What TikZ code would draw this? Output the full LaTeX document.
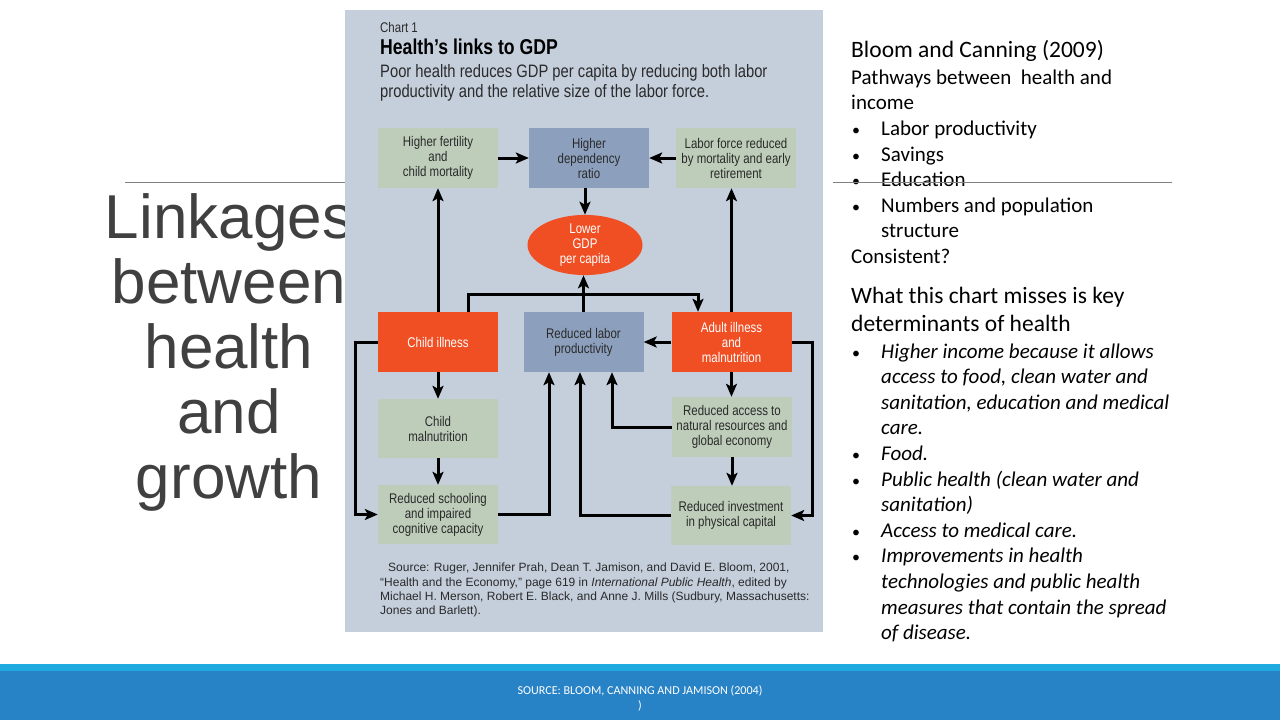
\documentclass[tikz,border=0pt]{standalone}
\usepackage{fontspec}
\setmainfont{Carlito}
\newfontfamily\titlefont{Liberation Sans}
\newfontfamily\chartfont[FakeStretch=0.82]{Liberation Sans}
\newfontfamily\chartplain{Liberation Sans}
\usetikzlibrary{shapes.geometric,arrows.meta}
\definecolor{chartbg}{HTML}{C5CFDC}
\definecolor{boxgreen}{HTML}{BECDBA}
\definecolor{boxblue}{HTML}{8CA0BE}
\definecolor{boxred}{HTML}{F04E23}
\definecolor{charttext}{HTML}{2A2A2A}
\definecolor{titlegray}{HTML}{404040}
\definecolor{rulegray}{HTML}{808080}
\definecolor{footlight}{HTML}{1FAAE0}
\definecolor{footdark}{HTML}{2782C6}
\tikzset{
  basebox/.style={rectangle, minimum width=120pt, minimum height=60pt, inner sep=0pt, align=center,
    font=\chartfont\fontsize{14}{15}\selectfont},
  greenbox/.style={basebox, fill=boxgreen, text=charttext},
  bluebox/.style={basebox, fill=boxblue, text=charttext},
  redbox/.style={basebox, fill=boxred, text=white},
  arr/.style={line width=3pt, -{Stealth[length=13pt,width=11pt,inset=3pt]}},
  rtext/.style={anchor=base west, inner sep=0pt, font=\fontsize{21}{25}\selectfont, text=black},
  rbull/.style={anchor=base west, inner sep=0pt, font=\fontsize{16}{20}\selectfont, text=black},
  rbig/.style={anchor=base west, inner sep=0pt, font=\fontsize{23.5}{28}\selectfont, text=black},
  itext/.style={anchor=base west, inner sep=0pt, font=\itshape\fontsize{21}{25}\selectfont, text=black},
  srctext/.style={anchor=base west, inner sep=0pt, font=\chartplain\fontsize{12}{14}\selectfont, text=charttext},
  titleline/.style={anchor=base, inner sep=0pt, font=\titlefont\fontsize{62}{65}\selectfont, text=titlegray}
}
\begin{document}
\begin{tikzpicture}[x=1pt,y=-1pt]
\useasboundingbox (0,0) rectangle (1280,720);
\fill[white] (0,0) rectangle (1280,720);
% footer
\fill[footlight] (0,664) rectangle (1280,671);
\fill[footdark] (0,671) rectangle (1280,720);
\node[anchor=base, inner sep=0pt, text=white, font=\fontsize{12.1}{14}\selectfont] (src1) at (640,694) {SOURCE: BLOOM, CANNING AND JAMISON (2004)};
\node[anchor=base, inner sep=0pt, text=white, font=\fontsize{12.1}{14}\selectfont] (src2) at (640,709) {)};
% left title
\draw[rulegray, line width=0.8pt] (125,182) -- (345,182);
\node[titleline] (t1) at (229,238) {Linkages};
\node[titleline] (t2) at (229,303) {between};
\node[titleline] (t3) at (229,368) {health};
\node[titleline] (t4) at (229,433) {and};
\node[titleline] (t5) at (229,498) {growth};
% chart panel
\fill[chartbg] (345,10) rectangle (823,632);
\node[anchor=base west, inner sep=0pt, text=charttext, font=\chartfont\fontsize{14}{16}\selectfont] (c1) at (380,32) {Chart 1};
\node[anchor=base west, inner sep=0pt, text=black, font=\chartfont\bfseries\fontsize{21.5}{24}\selectfont] (c2) at (380,54) {Health’s links to GDP};
\node[anchor=base west, inner sep=0pt, text=charttext, font=\chartfont\fontsize{18}{20}\selectfont] (c3) at (380,77) {Poor health reduces GDP per capita by reducing both labor};
\node[anchor=base west, inner sep=0pt, text=charttext, font=\chartfont\fontsize{18}{20}\selectfont] (c4) at (380,97) {productivity and the relative size of the labor force.};
% boxes
\node[greenbox] (hf) at (438,158) {Higher fertility\\and\\child mortality};
\node[bluebox] (hd) at (589,158) {Higher\\dependency\\ratio};
\node[greenbox] (lf) at (736,158) {Labor force reduced\\by mortality and early\\retirement};
\node[ellipse, fill=boxred, text=white, minimum width=115pt, minimum height=57pt, inner sep=0pt, align=center, font=\chartfont\fontsize{14}{15}\selectfont] (gdp) at (585,245) {Lower\\GDP\\per capita};
\node[redbox] (ci) at (438,342) {Child illness};
\node[bluebox] (rlp) at (583.5,342) {Reduced labor\\productivity};
\node[redbox] (ai) at (731.5,342) {Adult illness\\and\\malnutrition};
\node[greenbox, minimum height=59pt] (cm) at (438,428.5) {Child\\malnutrition};
\node[greenbox] (ra) at (732,427) {Reduced access to\\natural resources and\\global economy};
\node[greenbox, minimum height=59pt] (rs) at (438,514.5) {Reduced schooling\\and impaired\\cognitive capacity};
\node[greenbox, minimum height=59pt] (ri) at (731,515.5) {Reduced investment\\in physical capital};
% bend coordinates
\coordinate (b1) at (468,294);
\coordinate (b2) at (698,294);
\coordinate (b3) at (355,0);
\coordinate (b4) at (549,0);
\coordinate (b5) at (580,0);
\coordinate (b6) at (612,0);
\coordinate (b7) at (812,0);
% connectors
\draw[arr] (hf.east) -- (hd.west);
\draw[arr] (lf.west) -- (hd.east);
\draw[arr] (gdp.north |- hd.south) -- (gdp.north);
\draw[arr] (ci.north) -- (hf.south);
\draw[arr] (ai.north) -- (ai.north |- lf.south);
\draw[arr] (rlp.north) -- (rlp.north |- gdp.south);
\draw[arr] (ci.north -| b1) -- (b1) -- (b2) -- (ai.north -| b2);
\draw[arr] (ai.west) -- (rlp.east);
\draw[arr] (ci.west) -- (ci.west -| b3) |- (rs.west);
\draw[arr] (ci.south) -- (cm.north);
\draw[arr] (cm.south) -- (rs.north);
\draw[arr] (rs.east) -| (b4 |- rlp.south);
\draw[arr] (ri.west) -| (b5 |- rlp.south);
\draw[arr] (ra.west) -| (b6 |- rlp.south);
\draw[arr] (ai.south) -- (ai.south |- ra.north);
\draw[arr] (ra.south) -- (ra.south |- ri.north);
\draw[arr] (ai.east) -- (ai.east -| b7) |- (ri.east);
% source
\node[srctext] (s1) at (388,571.5) {Source: Ruger, Jennifer Prah, Dean T. Jamison, and David E. Bloom, 2001,};
\node[srctext] (s2) at (380,586) {“Health and the Economy,” page 619 in \textit{International Public Health}, edited by};
\node[srctext] (s3) at (380,600.5) {Michael H. Merson, Robert E. Black, and Anne J. Mills (Sudbury, Massachusetts:};
\node[srctext] (s4) at (380,614.5) {Jones and Barlett).};
% right text
\node[rbig] (r1) at (851,57) {Bloom and Canning (2009)};
\node[rtext] (r2) at (851,84) {Pathways between\ \ health and};
\node[rtext] (r3) at (851,109) {income};
\node[rbull] (r4b) at (852,135) {•};
\node[rtext] (r4) at (881,135) {Labor productivity};
\node[rbull] (r5b) at (852,161) {•};
\node[rtext] (r5) at (881,161) {Savings};
\node[rbull] (r6b) at (852,186) {•};
\node[rtext] (r6) at (881,186) {Education};
\node[rbull] (r7b) at (852,212) {•};
\node[rtext] (r7) at (881,212) {Numbers and population};
\node[rtext] (r8) at (881,237) {structure};
\node[rtext] (r9) at (851,263) {Consistent?};
\draw[rulegray, line width=0.8pt] (833,182) -- (1172,182);
\node[rbig] (w1) at (851,303) {What this chart misses is key};
\node[rbig] (w2) at (851,331) {determinants of health};
\node[rbull] (i1b) at (852,358) {•};
\node[itext] (i1) at (881,358) {Higher income because it allows};
\node[itext] (i2) at (881,383) {access to food, clean water and};
\node[itext] (i3) at (881,409) {sanitation, education and medical};
\node[itext] (i4) at (881,434) {care.};
\node[rbull] (i5b) at (852,460) {•};
\node[itext] (i5) at (881,460) {Food.};
\node[rbull] (i6b) at (852,486) {•};
\node[itext] (i6) at (881,486) {Public health (clean water and};
\node[itext] (i7) at (881,511) {sanitation)};
\node[rbull] (i8b) at (852,537) {•};
\node[itext] (i8) at (881,537) {Access to medical care.};
\node[rbull] (i9b) at (852,562) {•};
\node[itext] (i9) at (881,562) {Improvements in health};
\node[itext] (i10) at (881,588) {technologies and public health};
\node[itext] (i11) at (881,614) {measures that contain the spread};
\node[itext] (i12) at (881,639) {of disease.};
\end{tikzpicture}
\end{document}
